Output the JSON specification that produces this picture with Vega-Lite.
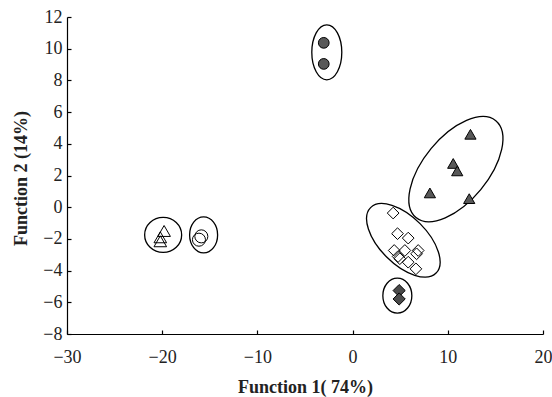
{
  "$schema": "https://vega.github.io/schema/vega-lite/v6.json",
  "width": 476,
  "height": 317,
  "autosize": "none",
  "padding": {"left": 67, "top": 17, "right": 9, "bottom": 63},
  "background": "white",
  "config": {
    "view": {"stroke": null},
    "axis": {
      "grid": false,
      "domainColor": "black",
      "domainWidth": 1.2,
      "tickColor": "black",
      "tickWidth": 1.2,
      "tickSize": -4,
      "labelFlush": false,
      "labelFont": "Liberation Serif",
      "labelFontSize": 18,
      "labelColor": "#222",
      "titleFont": "Liberation Serif",
      "titleFontSize": 18,
      "titleFontWeight": "bold",
      "titleColor": "#222"
    }
  },
  "datasets": {
    "groups": [
      {"grp": "G1", "x": -2.71, "y": 9.77},
      {"grp": "G2", "x": 10.85, "y": 2.4},
      {"grp": "G3", "x": 5.33, "y": -2.09},
      {"grp": "G4", "x": 4.7, "y": -5.58},
      {"grp": "G5", "x": -19.9, "y": -1.75},
      {"grp": "G6", "x": -15.65, "y": -1.75}
    ],
    "points": [
      {"grp": "G1", "x": -3.03, "y": 10.37},
      {"grp": "G1", "x": -3.03, "y": 9.04},
      {"grp": "G2", "x": 12.38, "y": 4.6},
      {"grp": "G2", "x": 10.57, "y": 2.76},
      {"grp": "G2", "x": 10.99, "y": 2.29},
      {"grp": "G2", "x": 8.12, "y": 0.9},
      {"grp": "G2", "x": 12.25, "y": 0.54},
      {"grp": "G3", "x": 4.26, "y": -0.37},
      {"grp": "G3", "x": 4.72, "y": -1.67},
      {"grp": "G3", "x": 5.84, "y": -1.95},
      {"grp": "G3", "x": 4.37, "y": -2.73},
      {"grp": "G3", "x": 5.49, "y": -2.73},
      {"grp": "G3", "x": 6.89, "y": -2.73},
      {"grp": "G3", "x": 6.72, "y": -2.94},
      {"grp": "G3", "x": 4.78, "y": -3.11},
      {"grp": "G3", "x": 4.96, "y": -3.25},
      {"grp": "G3", "x": 5.84, "y": -3.47},
      {"grp": "G3", "x": 6.65, "y": -3.89},
      {"grp": "G4", "x": 4.89, "y": -5.26},
      {"grp": "G4", "x": 4.89, "y": -5.79},
      {"grp": "G5", "x": -19.8, "y": -1.5},
      {"grp": "G5", "x": -20.2, "y": -1.9},
      {"grp": "G5", "x": -20.2, "y": -2.15},
      {"grp": "G6", "x": -15.89, "y": -1.84},
      {"grp": "G6", "x": -16.14, "y": -2.05}
    ]
  },
  "encoding": {
    "x": {
      "field": "x",
      "type": "quantitative",
      "scale": {"domain": [-30, 20], "nice": false, "zero": false},
      "axis": {
        "values": [-30, -20, -10, 0, 10, 20],
        "labelPadding": 18,
        "title": "Function 1( 74%)",
        "titlePadding": 12
      }
    },
    "y": {
      "field": "y",
      "type": "quantitative",
      "scale": {"domain": [-8, 12], "nice": false, "zero": false},
      "axis": {
        "values": [-8, -6, -4, -2, 0, 2, 4, 6, 8, 10, 12],
        "labelPadding": 9,
        "title": "Function 2 (14%)",
        "titlePadding": 12,
        "titleY": 161
      }
    }
  },
  "layer": [
    {
      "data": {"name": "groups"},
      "mark": {"type": "point", "filled": false, "stroke": "black", "strokeWidth": 1.3, "size": 4, "opacity": 1},
      "encoding": {
        "shape": {
          "field": "grp",
          "type": "nominal",
          "legend": null,
          "scale": {
            "domain": ["G1", "G2", "G3", "G4", "G5", "G6"],
            "range": [
              "M -15 0 A 15 27.5 0 0 1 15 0 A 15 27.5 0 0 1 -15 0 Z",
              "M -39.9 48.4 A 62.7 32.2 -50.5 0 1 39.9 -48.4 A 62.7 32.2 -50.5 0 1 -39.9 48.4 Z",
              "M -32.74 -32.74 A 46.3 23.6 45 0 1 32.74 32.74 A 46.3 23.6 45 0 1 -32.74 -32.74 Z",
              "M -14.5 0 A 14.5 17.5 0 0 1 14.5 0 A 14.5 17.5 0 0 1 -14.5 0 Z",
              "M -18.5 0 A 18.5 17.5 0 0 1 18.5 0 A 18.5 17.5 0 0 1 -18.5 0 Z",
              "M -14 0 A 14 18 0 0 1 14 0 A 14 18 0 0 1 -14 0 Z"
            ]
          }
        }
      }
    },
    {
      "data": {"name": "points"},
      "mark": {"type": "point", "filled": true, "stroke": "black", "strokeWidth": 1, "opacity": 1},
      "encoding": {
        "shape": {
          "field": "grp",
          "type": "nominal",
          "legend": null,
          "scale": {
            "domain": ["G1", "G2", "G3", "G4", "G5", "G6"],
            "range": ["circle", "triangle-up", "diamond", "diamond", "triangle-up", "circle"]
          }
        },
        "fill": {
          "field": "grp",
          "type": "nominal",
          "legend": null,
          "scale": {
            "domain": ["G1", "G2", "G3", "G4", "G5", "G6"],
            "range": ["#585858", "#585858", "transparent", "#4a4a4a", "transparent", "transparent"]
          }
        },
        "size": {
          "field": "grp",
          "type": "nominal",
          "legend": null,
          "scale": {
            "domain": ["G1", "G2", "G3", "G4", "G5", "G6"],
            "range": [115, 170, 121, 110, 140, 80]
          }
        }
      }
    }
  ],
  "resolve": {"scale": {"shape": "independent"}}
}
